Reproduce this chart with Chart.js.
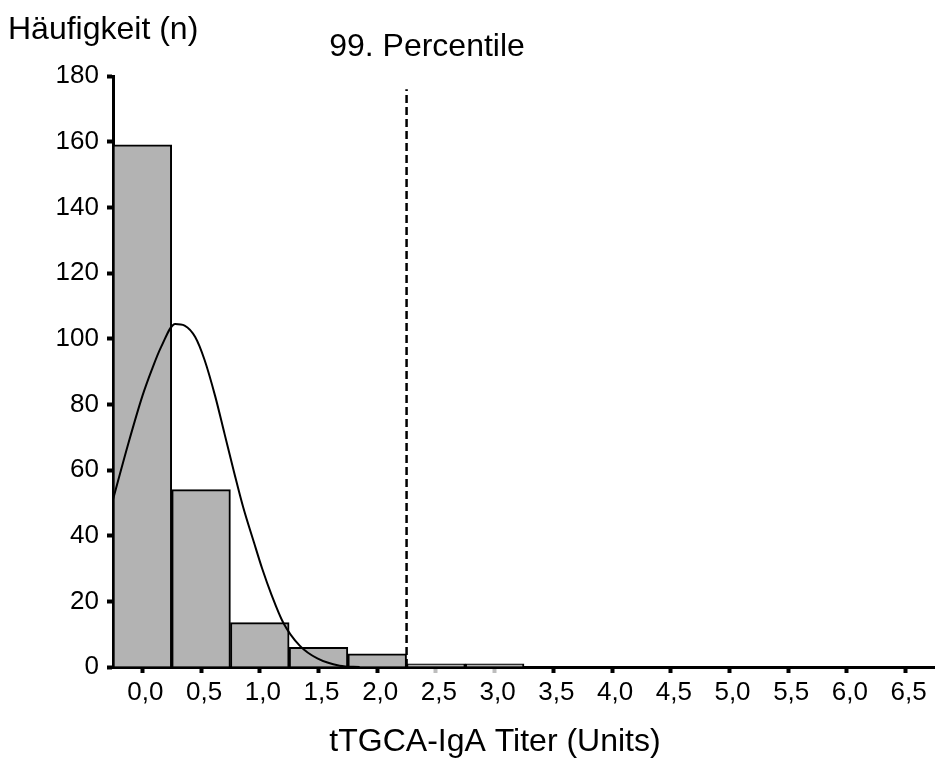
<!DOCTYPE html>
<html>
<head>
<meta charset="utf-8">
<script src="https://cdn.jsdelivr.net/npm/chart.js@4.4.1/dist/chart.umd.min.js"></script>
<style>
  html, body { margin: 0; padding: 0; background: #fff; }
  #chart { display: block; }
</style>
</head>
<body>
<canvas id="chart" width="935" height="760"></canvas>
<script>
// Histogram bins (bin centres, width 0.5) and counts
const binCenters = [0.0, 0.5, 1.0, 1.5, 2.0, 2.5, 3.0];
const binCounts = [159, 54, 13.5, 6, 4, 1, 1];

// Fitted curve
const curveX = [-0.25, -0.12, 0.0, 0.08, 0.16, 0.28, 0.36, 0.45, 0.53, 0.62, 0.7, 0.78, 0.86, 0.95, 1.02, 1.1, 1.2, 1.34, 1.49, 1.68, 1.85];
const curveY = [51, 68, 82.5, 90.5, 97.5, 104.5, 104, 100.5, 93.5, 82.5, 71, 59.5, 48.5, 38, 30, 22, 13.5, 6.5, 2.6, 0.4, 0];

// 99th percentile marker
const percentileX = 2.25;
const percentileTop = 176;

// Axis ticks
const xTickValues = [0.0, 0.5, 1.0, 1.5, 2.0, 2.5, 3.0, 3.5, 4.0, 4.5, 5.0, 5.5, 6.0, 6.5];
const xTickLabels = ['0,0', '0,5', '1,0', '1,5', '2,0', '2,5', '3,0', '3,5', '4,0', '4,5', '5,0', '5,5', '6,0', '6,5'];
const greyTicks = [2.5, 3.0];

const FONT = "'Liberation Sans', Arial, sans-serif";

// Draws the free-standing texts (axis titles, percentile label)
const textPlugin = {
    id: 'texts',
    afterDraw(chart) {
        const ctx = chart.ctx;
        ctx.save();
        ctx.fillStyle = '#000';
        ctx.font = '32px ' + FONT;
        ctx.textBaseline = 'alphabetic';
        ctx.textAlign = 'left';
        ctx.fillText('Häufigkeit (n)', 8, 39);
        ctx.textAlign = 'center';
        ctx.fillText('99. Percentile', 427, 56);
        ctx.fillText('tTGCA-IgA Titer (Units)', 495, 751);
        ctx.restore();
    }
};

new Chart(document.getElementById('chart'), {
    type: 'line',
    data: {
        datasets: [
            {
                type: 'line',
                data: [{ x: percentileX, y: 0 }, { x: percentileX, y: percentileTop }],
                borderColor: '#000',
                borderWidth: 2.5,
                borderDash: [8, 4],
                pointRadius: 0
            },
            {
                type: 'line',
                data: curveX.map((x, i) => ({ x: x, y: curveY[i] })),
                borderColor: '#000',
                borderWidth: 2,
                pointRadius: 0,
                cubicInterpolationMode: 'monotone'
            },
            {
                type: 'bar',
                data: binCenters.map((x, i) => ({ x: x, y: binCounts[i] })),
                backgroundColor: '#b3b3b3',
                borderColor: '#000',
                borderWidth: 2,
                barPercentage: 1,
                categoryPercentage: 1
            }
        ]
    },
    options: {
        responsive: false,
        animation: false,
        layout: { padding: { top: 76, left: 0, right: 0, bottom: 0 } },
        plugins: {
            legend: { display: false },
            tooltip: { enabled: false }
        },
        scales: {
            x: {
                type: 'linear',
                min: -0.25,
                max: 6.75,
                offset: false,
                afterBuildTicks: (scale) => {
                    scale.ticks = xTickValues.map(v => ({ value: v }));
                },
                afterFit: (scale) => { scale.height = 93; },
                border: { display: true, color: '#000', width: 3 },
                grid: {
                    offset: false,
                    drawOnChartArea: false,
                    drawTicks: true,
                    tickLength: 6,
                    tickWidth: 4,
                    tickColor: (ctx) => greyTicks.includes(ctx.tick && ctx.tick.value) ? '#bdbdbd' : '#000'
                },
                ticks: {
                    autoSkip: false,
                    maxRotation: 0,
                    padding: 4,
                    labelOffset: 3,
                    color: '#000',
                    font: { family: FONT, size: 26 },
                    callback: (v) => {
                        const i = xTickValues.indexOf(v);
                        return i >= 0 ? xTickLabels[i] : '';
                    }
                }
            },
            y: {
                min: 0,
                max: 180,
                afterFit: (scale) => { scale.width = 113; },
                border: { display: true, color: '#000', width: 3 },
                grid: {
                    drawOnChartArea: false,
                    drawTicks: true,
                    tickLength: 6,
                    tickWidth: 4,
                    tickColor: '#000'
                },
                ticks: {
                    stepSize: 20,
                    padding: 8,
                    color: '#000',
                    font: { family: FONT, size: 26 }
                }
            }
        }
    },
    plugins: [textPlugin]
});
</script>
</body>
</html>
